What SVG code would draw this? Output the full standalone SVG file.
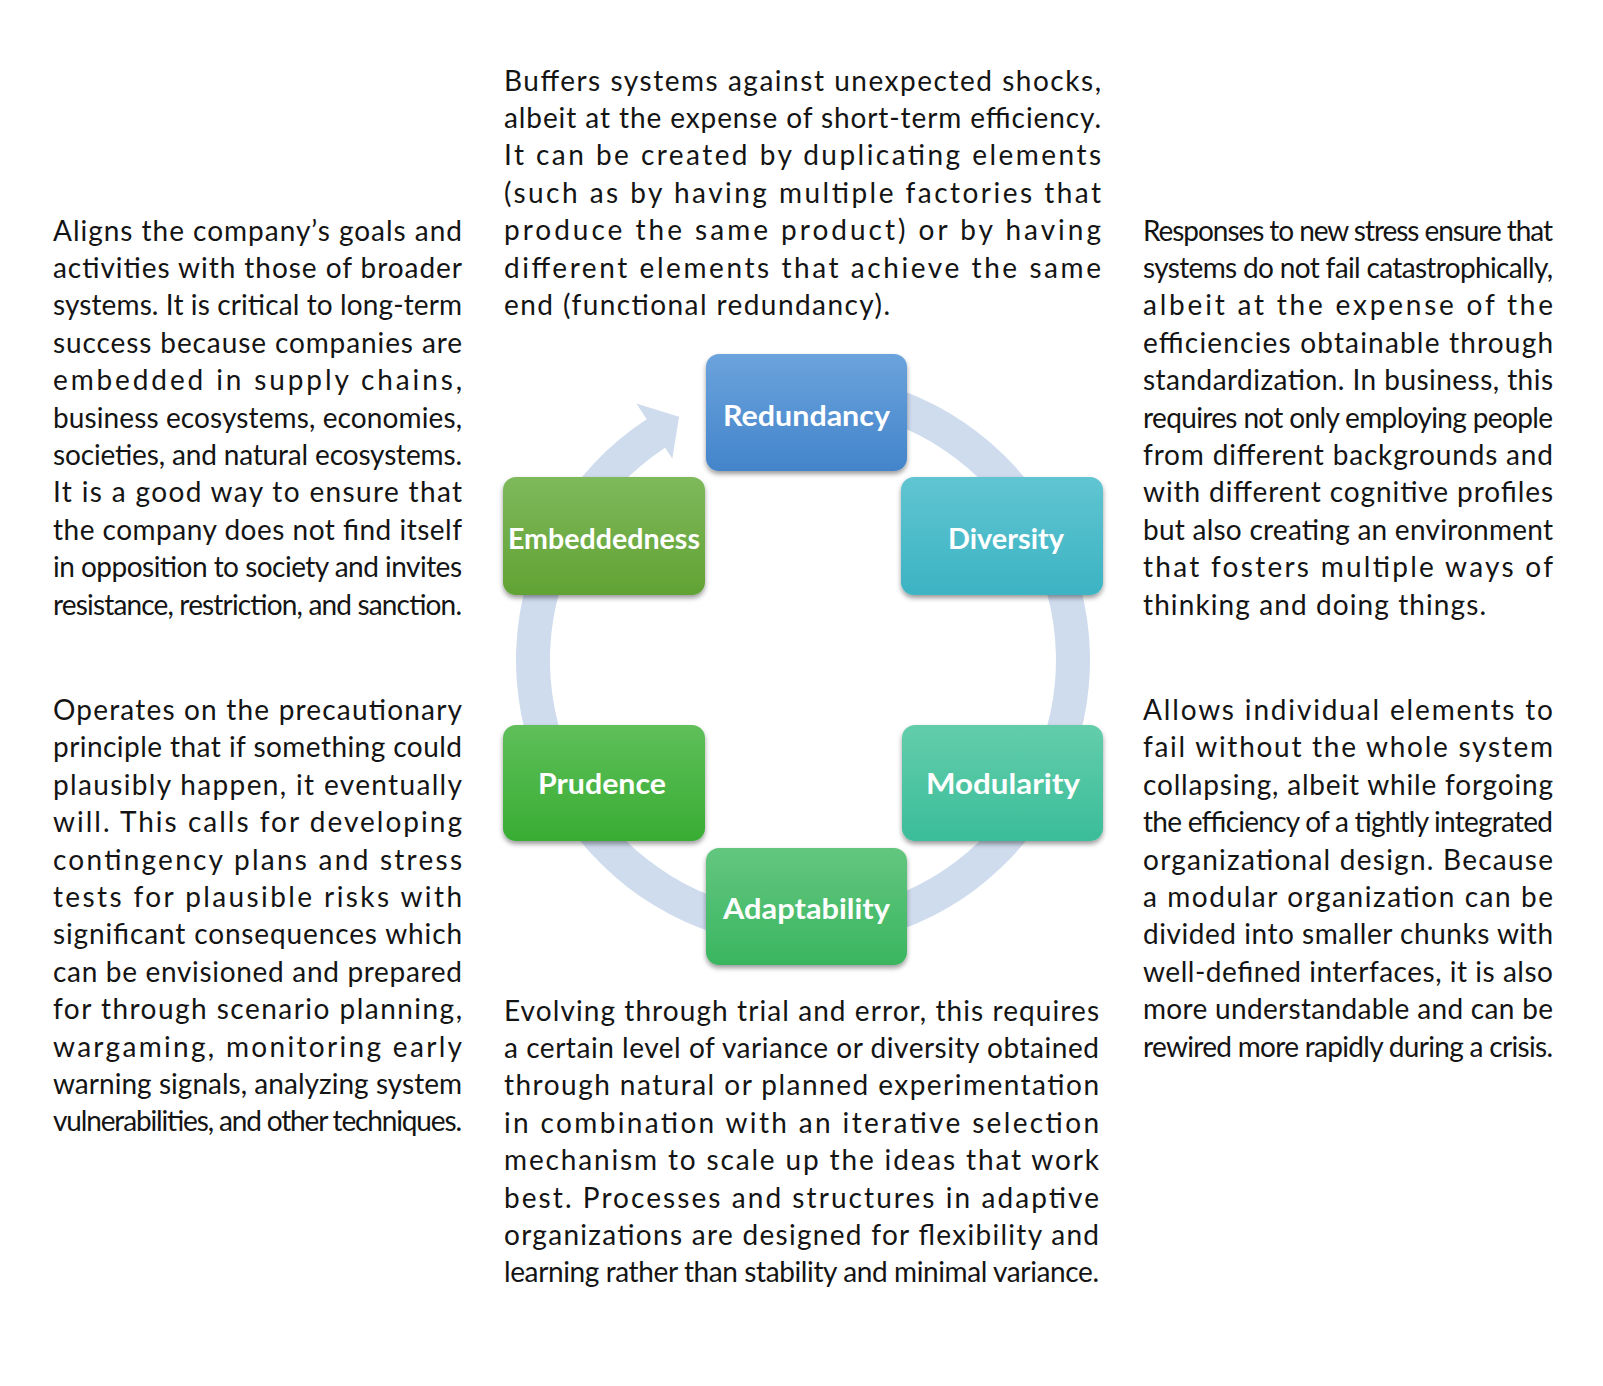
<svg xmlns="http://www.w3.org/2000/svg" width="1603" height="1386" viewBox="0 0 1603 1386">
<style>
.p{font-family:Lato,"Liberation Sans",sans-serif;font-size:28px;fill:#141414}
.lbl{font-family:Lato,"Liberation Sans",sans-serif;font-size:28px;font-weight:bold;fill:#ffffff;text-anchor:middle}
.box{filter:url(#sh)}
</style>
<defs>
<filter id="sh" x="-10%" y="-10%" width="120%" height="130%">
<feDropShadow dx="0" dy="3" stdDeviation="2.5" flood-color="#000" flood-opacity="0.4"/>
</filter>
<linearGradient id="gRed" x1="0" y1="0" x2="0" y2="1"><stop offset="0" stop-color="#6ba3dd"/><stop offset="1" stop-color="#4384ca"/></linearGradient>
<linearGradient id="gEmb" x1="0" y1="0" x2="0" y2="1"><stop offset="0" stop-color="#7eb95b"/><stop offset="1" stop-color="#62a234"/></linearGradient>
<linearGradient id="gDiv" x1="0" y1="0" x2="0" y2="1"><stop offset="0" stop-color="#60c5d1"/><stop offset="1" stop-color="#3cb3c3"/></linearGradient>
<linearGradient id="gPru" x1="0" y1="0" x2="0" y2="1"><stop offset="0" stop-color="#5fbf5a"/><stop offset="1" stop-color="#38ad33"/></linearGradient>
<linearGradient id="gMod" x1="0" y1="0" x2="0" y2="1"><stop offset="0" stop-color="#63cdaa"/><stop offset="1" stop-color="#3bbd9a"/></linearGradient>
<linearGradient id="gAda" x1="0" y1="0" x2="0" y2="1"><stop offset="0" stop-color="#63c67f"/><stop offset="1" stop-color="#3ab660"/></linearGradient>
</defs>
<rect width="1603" height="1386" fill="#ffffff"/>

<g id="connectors">
<path d="M 803 373 A 287 287 0 1 1 646.7 419.3 L 636.4 403.4 L 679.1 416.8 L 672.3 458.7 L 665.2 447.8 A 253 253 0 1 0 803 407 Z" fill="#cfdcee"/>
</g>

<g id="node-redundancy">
<rect class="box" x="706" y="354" width="201" height="117" rx="13" fill="url(#gRed)"/>
<text class="lbl" x="806.5" y="426" textLength="167" lengthAdjust="spacingAndGlyphs">Redundancy</text>
</g>
<g id="node-embeddedness">
<rect class="box" x="503" y="477" width="202" height="118" rx="13" fill="url(#gEmb)"/>
<text class="lbl" x="604" y="548.5" textLength="192" lengthAdjust="spacingAndGlyphs">Embeddedness</text>
</g>
<g id="node-diversity">
<rect class="box" x="901" y="477" width="202" height="118" rx="13" fill="url(#gDiv)"/>
<text class="lbl" x="1006" y="548.5" textLength="116" lengthAdjust="spacingAndGlyphs">Diversity</text>
</g>
<g id="node-prudence">
<rect class="box" x="503" y="725" width="202" height="116" rx="13" fill="url(#gPru)"/>
<text class="lbl" x="602" y="793.5" textLength="128" lengthAdjust="spacingAndGlyphs">Prudence</text>
</g>
<g id="node-modularity">
<rect class="box" x="902" y="725" width="201" height="116" rx="13" fill="url(#gMod)"/>
<text class="lbl" x="1003" y="793.5" textLength="154" lengthAdjust="spacingAndGlyphs">Modularity</text>
</g>
<g id="node-adaptability">
<rect class="box" x="706" y="848" width="201" height="117" rx="13" fill="url(#gAda)"/>
<text class="lbl" x="806.5" y="919" textLength="167" lengthAdjust="spacingAndGlyphs">Adaptability</text>
</g>

<g id="desc-embeddedness">
<text class="p" x="53" y="240.5" textLength="409" lengthAdjust="spacing">Aligns the company’s goals and</text>
<text class="p" x="53" y="277.9" textLength="409" lengthAdjust="spacing">activities with those of broader</text>
<text class="p" x="53" y="315.3" textLength="409" lengthAdjust="spacing">systems. It is critical to long-term</text>
<text class="p" x="53" y="352.7" textLength="409" lengthAdjust="spacing">success because companies are</text>
<text class="p" x="53" y="390.1" textLength="409" lengthAdjust="spacing">embedded in supply chains,</text>
<text class="p" x="53" y="427.5" textLength="409" lengthAdjust="spacing">business ecosystems, economies,</text>
<text class="p" x="53" y="464.9" textLength="409" lengthAdjust="spacing">societies, and natural ecosystems.</text>
<text class="p" x="53" y="502.3" textLength="409" lengthAdjust="spacing">It is a good way to ensure that</text>
<text class="p" x="53" y="539.7" textLength="409" lengthAdjust="spacing">the company does not find itself</text>
<text class="p" x="53" y="577.1" textLength="409" lengthAdjust="spacing">in opposition to society and invites</text>
<text class="p" x="53" y="614.5" textLength="409" lengthAdjust="spacing">resistance, restriction, and sanction.</text>
</g>

<g id="desc-prudence">
<text class="p" x="53" y="720" textLength="409" lengthAdjust="spacing">Operates on the precautionary</text>
<text class="p" x="53" y="757.4" textLength="409" lengthAdjust="spacing">principle that if something could</text>
<text class="p" x="53" y="794.8" textLength="409" lengthAdjust="spacing">plausibly happen, it eventually</text>
<text class="p" x="53" y="832.2" textLength="409" lengthAdjust="spacing">will. This calls for developing</text>
<text class="p" x="53" y="869.6" textLength="409" lengthAdjust="spacing">contingency plans and stress</text>
<text class="p" x="53" y="907" textLength="409" lengthAdjust="spacing">tests for plausible risks with</text>
<text class="p" x="53" y="944.4" textLength="409" lengthAdjust="spacing">significant consequences which</text>
<text class="p" x="53" y="981.8" textLength="409" lengthAdjust="spacing">can be envisioned and prepared</text>
<text class="p" x="53" y="1019.2" textLength="409" lengthAdjust="spacing">for through scenario planning,</text>
<text class="p" x="53" y="1056.6" textLength="409" lengthAdjust="spacing">wargaming, monitoring early</text>
<text class="p" x="53" y="1094" textLength="409" lengthAdjust="spacing">warning signals, analyzing system</text>
<text class="p" x="53" y="1131.4" textLength="409" lengthAdjust="spacing">vulnerabilities, and other techniques.</text>
</g>

<g id="desc-redundancy">
<text class="p" x="504" y="90.5" textLength="597" lengthAdjust="spacing">Buffers systems against unexpected shocks,</text>
<text class="p" x="504" y="127.9" textLength="597" lengthAdjust="spacing">albeit at the expense of short-term efficiency.</text>
<text class="p" x="504" y="165.3" textLength="597" lengthAdjust="spacing">It can be created by duplicating elements</text>
<text class="p" x="504" y="202.7" textLength="597" lengthAdjust="spacing">(such as by having multiple factories that</text>
<text class="p" x="504" y="240.1" textLength="597" lengthAdjust="spacing">produce the same product) or by having</text>
<text class="p" x="504" y="277.5" textLength="597" lengthAdjust="spacing">different elements that achieve the same</text>
<text class="p" x="504" y="314.9" textLength="386" lengthAdjust="spacing">end (functional redundancy).</text>
</g>

<g id="desc-diversity">
<text class="p" x="1143" y="240.5" textLength="410" lengthAdjust="spacing">Responses to new stress ensure that</text>
<text class="p" x="1143" y="277.9" textLength="410" lengthAdjust="spacing">systems do not fail catastrophically,</text>
<text class="p" x="1143" y="315.3" textLength="410" lengthAdjust="spacing">albeit at the expense of the</text>
<text class="p" x="1143" y="352.7" textLength="410" lengthAdjust="spacing">efficiencies obtainable through</text>
<text class="p" x="1143" y="390.1" textLength="410" lengthAdjust="spacing">standardization. In business, this</text>
<text class="p" x="1143" y="427.5" textLength="410" lengthAdjust="spacing">requires not only employing people</text>
<text class="p" x="1143" y="464.9" textLength="410" lengthAdjust="spacing">from different backgrounds and</text>
<text class="p" x="1143" y="502.3" textLength="410" lengthAdjust="spacing">with different cognitive profiles</text>
<text class="p" x="1143" y="539.7" textLength="410" lengthAdjust="spacing">but also creating an environment</text>
<text class="p" x="1143" y="577.1" textLength="410" lengthAdjust="spacing">that fosters multiple ways of</text>
<text class="p" x="1143" y="614.5" textLength="343" lengthAdjust="spacing">thinking and doing things.</text>
</g>

<g id="desc-modularity">
<text class="p" x="1143" y="720" textLength="410" lengthAdjust="spacing">Allows individual elements to</text>
<text class="p" x="1143" y="757.4" textLength="410" lengthAdjust="spacing">fail without the whole system</text>
<text class="p" x="1143" y="794.8" textLength="410" lengthAdjust="spacing">collapsing, albeit while forgoing</text>
<text class="p" x="1143" y="832.2" textLength="410" lengthAdjust="spacing">the efficiency of a tightly integrated</text>
<text class="p" x="1143" y="869.6" textLength="410" lengthAdjust="spacing">organizational design. Because</text>
<text class="p" x="1143" y="907" textLength="410" lengthAdjust="spacing">a modular organization can be</text>
<text class="p" x="1143" y="944.4" textLength="410" lengthAdjust="spacing">divided into smaller chunks with</text>
<text class="p" x="1143" y="981.8" textLength="410" lengthAdjust="spacing">well-defined interfaces, it is also</text>
<text class="p" x="1143" y="1019.2" textLength="410" lengthAdjust="spacing">more understandable and can be</text>
<text class="p" x="1143" y="1056.6" textLength="410" lengthAdjust="spacing">rewired more rapidly during a crisis.</text>
</g>

<g id="desc-adaptability">
<text class="p" x="504" y="1020.5" textLength="595" lengthAdjust="spacing">Evolving through trial and error, this requires</text>
<text class="p" x="504" y="1057.9" textLength="595" lengthAdjust="spacing">a certain level of variance or diversity obtained</text>
<text class="p" x="504" y="1095.3" textLength="595" lengthAdjust="spacing">through natural or planned experimentation</text>
<text class="p" x="504" y="1132.7" textLength="595" lengthAdjust="spacing">in combination with an iterative selection</text>
<text class="p" x="504" y="1170.1" textLength="595" lengthAdjust="spacing">mechanism to scale up the ideas that work</text>
<text class="p" x="504" y="1207.5" textLength="595" lengthAdjust="spacing">best. Processes and structures in adaptive</text>
<text class="p" x="504" y="1244.9" textLength="595" lengthAdjust="spacing">organizations are designed for flexibility and</text>
<text class="p" x="504" y="1282.3" textLength="595" lengthAdjust="spacing">learning rather than stability and minimal variance.</text>
</g>
</svg>
